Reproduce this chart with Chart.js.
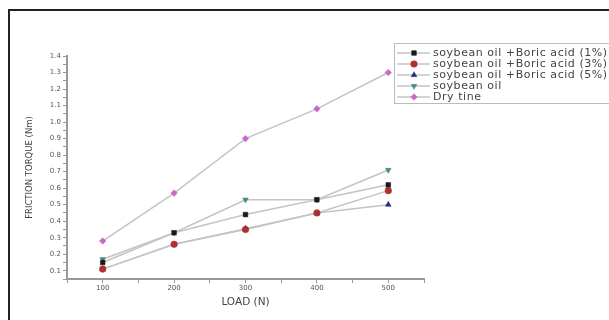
<!DOCTYPE html>
<html>
<head>
<meta charset="utf-8">
<script src="https://cdn.jsdelivr.net/npm/chart.js@4.4.1/dist/chart.umd.min.js"></script>
<style>
  html, body { margin: 0; padding: 0; background: #fff; }
  #wrap { position: relative; width: 609px; height: 320px; overflow: hidden; }
  #frame { position: absolute; left: 8px; top: 9px; right: -5px; bottom: -5px;
           border-left: 2px solid #222; border-top: 2px solid #222; }
  canvas { position: absolute; left: 0; top: 0; }
</style>
</head>
<body>
<div id="wrap">
  <div id="frame"></div>
  <canvas id="chart" width="609" height="320"></canvas>
</div>
<script>
// values
const loads = [100, 200, 300, 400, 500];
const boric1 = [0.15, 0.33, 0.44, 0.53, 0.62];
const boric3 = [0.11, 0.26, 0.35, 0.45, 0.585];
const boric5 = [0.11, 0.26, 0.355, 0.45, 0.50];
const soybean = [0.17, 0.33, 0.53, 0.53, 0.71];
const dryTine = [0.28, 0.57, 0.90, 1.08, 1.30];

const seriesNames = [
  "soybean oil +Boric acid (1%)",
  "soybean oil +Boric acid (3%)",
  "soybean oil +Boric acid (5%)",
  "soybean oil",
  "Dry tine"
];

Chart.defaults.font.family = "'DejaVu Sans', sans-serif";
Chart.defaults.color = "#555";

function series(label, values, color, style, rotation) {
  return {
    label: label,
    data: values.map((v, i) => ({x: loads[i], y: v})),
    borderColor: "#c4c4c4",
    borderWidth: 1.5,
    pointStyle: style,
    pointRotation: rotation || 0,
    pointRadius: 3.3,
    pointBackgroundColor: color,
    pointBorderColor: color,
    pointBorderWidth: 0.5,
    tension: 0
  };
}

// legend box drawn by hand, like the Origin one sticking out to the right
const boxLegend = {
  id: "boxLegend",
  afterDraw(chart) {
    const ctx = chart.ctx;
    ctx.save();
    ctx.strokeStyle = "#bbb";
    ctx.lineWidth = 1;
    ctx.strokeRect(394.5, 43.5, 230, 60);
    ctx.font = "11px 'DejaVu Sans'";
    ctx.letterSpacing = "0.55px";
    ctx.textBaseline = "middle";
    chart.data.datasets.forEach((ds, i) => {
      const y = 53 + i * 11;
      ctx.strokeStyle = "#c4c4c4";
      ctx.lineWidth = 1.5;
      ctx.beginPath();
      ctx.moveTo(397, y);
      ctx.lineTo(430, y);
      ctx.stroke();
      ctx.fillStyle = ds.pointBackgroundColor;
      ctx.strokeStyle = ds.pointBorderColor;
      ctx.lineWidth = 0.5;
      Chart.helpers.drawPoint(ctx, {pointStyle: ds.pointStyle, radius: 3.3, rotation: ds.pointRotation, borderWidth: 0.5}, 414, y);
      ctx.fillStyle = "#444";
      ctx.fillText(seriesNames[i], 433, y + 0.5);
    });
    ctx.restore();
  }
};

new Chart(document.getElementById("chart"), {
  type: "line",
  data: {
    datasets: [
      series(seriesNames[0], boric1, "#1a1a1a", "rect"),
      series(seriesNames[1], boric3, "#b03030", "circle"),
      series(seriesNames[2], boric5, "#2a2a88", "triangle"),
      series(seriesNames[3], soybean, "#3f8f7f", "triangle", 180),
      series(seriesNames[4], dryTine, "#c868c8", "rectRot")
    ]
  },
  options: {
    responsive: false,
    animation: false,
    layout: { padding: { left: 25, top: 56, right: 185, bottom: 11 } },
    plugins: { legend: { display: false }, tooltip: { enabled: false } },
    scales: {
      x: {
        type: "linear",
        min: 50,
        max: 550,
        afterFit(scale) { scale.height = 30; },
        border: { color: "#999", width: 2 },
        grid: { drawOnChartArea: false, drawTicks: true, tickLength: 4, color: "#999" },
        ticks: {
          stepSize: 50,
          autoSkip: false,
          maxRotation: 0,
          padding: 1,
          font: { size: 7 },
          callback: v => (v % 100 === 0 ? String(v) : "")
        },
        title: { display: true, text: "LOAD (N)", color: "#444", font: { size: 10.5 }, padding: { top: 1, bottom: 0 } }
      },
      y: {
        min: 0.05,
        max: 1.4,
        afterFit(scale) { scale.width = 42; },
        border: { color: "#999", width: 2 },
        grid: { drawOnChartArea: false, drawTicks: true, tickLength: 4, color: "#999" },
        ticks: {
          stepSize: 0.05,
          autoSkip: false,
          padding: 2,
          font: { size: 7 },
          callback: v => (Math.round(v * 100) % 10 === 0 ? v.toFixed(1) : "")
        },
        title: { display: true, text: "FRICTION TORQUE (Nm)", color: "#444", font: { size: 8.5 }, padding: { top: 0, bottom: 0 } }
      }
    }
  },
  plugins: [boxLegend]
});
</script>
</body>
</html>
